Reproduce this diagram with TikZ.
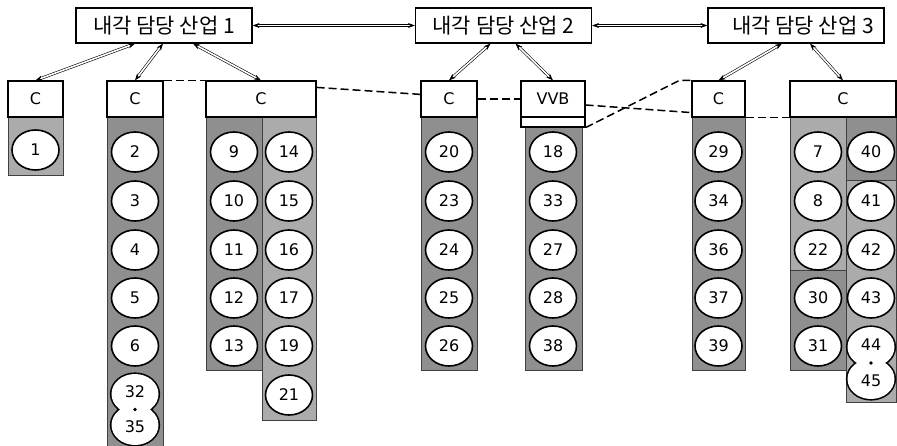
\documentclass[tikz,border=0pt]{standalone}
\usepackage{fontspec}
\setmainfont{DejaVu Sans}
\newfontfamily\krfont{Noto Sans CJK KR}
\usetikzlibrary{positioning, arrows.meta, shapes.geometric}

\begin{document}
\begin{tikzpicture}[x=1pt, y=-1pt, >=Stealth,
    ind/.style={draw, line width=1.2pt, fill=white, minimum width=176, minimum height=35,
      inner sep=2pt, font=\krfont\fontsize{21}{21}\selectfont},
    head/.style={draw, line width=1.2pt, fill=white, minimum height=36, inner sep=0pt,
      font=\fontsize{16}{16}\selectfont},
    unit/.style={ellipse, draw, line width=1.6pt, fill=white, minimum width=47,
      minimum height=40, inner sep=0pt, font=\fontsize{16}{16}\selectfont},
    tag/.style={inner sep=0pt, font=\fontsize{16}{16}\selectfont},
    bank/.style={draw=black!75, line width=0.8pt, fill=black!44},
    banklt/.style={draw=black!75, line width=0.8pt, fill=black!33},
    link/.style={{Stealth[length=7pt,width=5pt]}-{Stealth[length=7pt,width=5pt]},
      double, double distance=1.6pt, line width=0.6pt},
    tie/.style={dash pattern=on 8pt off 4pt, line width=1.5pt}]
  \useasboundingbox (0,0) rectangle (897,446);

  % industries
  \node[ind] (ind1) at (164,25.5) {내각 담당 산업 1};
  \node[ind] (ind2) at (503.5,25.5) {내각 담당 산업 2};
  \node[ind] (ind3) at (796,25.5) {\hspace*{14pt}내각 담당 산업 3};

  % shaded banks under the headers
  \path[banklt] (8,117) rectangle (63,175);
  \path[bank] (107,117) rectangle (163,450);
  \path[bank] (206,117) rectangle (262,370);
  \path[banklt] (262,117) rectangle (316,420);
  \path[bank] (421,117) rectangle (477,370);
  \path[bank] (525,127) rectangle (582,370);
  \path[bank] (692,117) rectangle (745,370);
  \path[banklt] (790,117) rectangle (846,270);
  \path[bank] (790,270) rectangle (846,370);
  \path[bank] (846,117) rectangle (896,180);
  \path[banklt] (846,180) rectangle (896,402);

  % headers
  \node[head, minimum width=55] (hdA) at (35.5,99) {C};
  \node[head, minimum width=56] (hdB) at (135,99) {C};
  \node[head, minimum width=110] (hdC) at (261,99) {C};
  \node[head, minimum width=56] (hdD) at (449,99) {C};
  \node[head, minimum width=64] (hdE) at (553,99) {VVB};
  \node[draw, line width=1.2pt, fill=white, minimum width=64, minimum height=10,
    inner sep=0pt] (stripE) at (553,122) {};
  \node[head, minimum width=53] (hdF) at (718.5,99) {C};
  \node[head, minimum width=106] (hdG) at (843,99) {C};

  % members
  \node[unit] (u1) at (35.5,150) {1};
  \foreach \n/\y in {2/152,3/201,4/250,5/298,6/346}
    \node[unit] (u\n) at (135,\y) {\n};
  \foreach \n/\y in {9/152,10/201,11/250,12/298,13/346}
    \node[unit] (u\n) at (234,\y) {\n};
  \foreach \n/\y in {14/152,15/201,16/250,17/298,19/346,21/395}
    \node[unit] (u\n) at (289,\y) {\n};
  \foreach \n/\y in {20/152,23/201,24/250,25/298,26/346}
    \node[unit] (u\n) at (449,\y) {\n};
  \foreach \n/\y in {18/152,33/201,27/250,28/298,38/346}
    \node[unit] (u\n) at (553,\y) {\n};
  \foreach \n/\y in {29/152,34/201,36/250,37/298,39/346}
    \node[unit] (u\n) at (718.5,\y) {\n};
  \foreach \n/\y in {7/152,8/201,22/250,30/298,31/346}
    \node[unit] (u\n) at (818,\y) {\n};
  \foreach \n/\y in {40/152,41/201,42/250,43/298}
    \node[unit] (u\n) at (871,\y) {\n};

  % joined pairs
  \path[draw, line width=3.2pt] (135,394) ellipse [x radius=23.5, y radius=20]
    (135,425) ellipse [x radius=23.5, y radius=20];
  \fill[white] (135,394) ellipse [x radius=23.5, y radius=20]
    (135,425) ellipse [x radius=23.5, y radius=20];
  \node[tag] (u32) at (135,392) {32};
  \node[tag] (u35) at (135,427) {35};
  \fill (135,409.5) circle [radius=1.9];

  \path[draw, line width=3.2pt] (871,347) ellipse [x radius=23.5, y radius=20]
    (871,379) ellipse [x radius=23.5, y radius=20];
  \fill[white] (871,347) ellipse [x radius=23.5, y radius=20]
    (871,379) ellipse [x radius=23.5, y radius=20];
  \node[tag] (u44) at (871,345) {44};
  \node[tag] (u45) at (871,381) {45};
  \fill (871,363) circle [radius=1.9];

  % links between industries and their groups
  \path (ind1.east) edge[link] (ind2.west)
        (ind2.east) edge[link] (ind3.west)
        ([xshift=-29pt]ind1.south) edge[link] (hdA.north)
        ([xshift=-1pt]ind1.south) edge[link] (hdB.north)
        ([xshift=29pt]ind1.south) edge[link] (hdC.north)
        ([xshift=-13pt]ind2.south) edge[link] (hdD.north)
        ([xshift=12pt]ind2.south) edge[link] (hdE.north)
        ([xshift=-14pt]ind3.south) edge[link] (hdF.north)
        ([xshift=14pt]ind3.south) edge[link] (hdG.north);

  % dashed ties between groups
  \draw[tie] (hdB.north east) -- (hdC.north west);
  \draw[tie] ([yshift=-7pt]hdC.north east) -- ([yshift=-14pt]hdD.north west);
  \draw[tie] (hdD.east) -- (hdE.west);
  \draw[tie] ([yshift=-6pt]hdE.east) -- ([yshift=5pt]hdF.south west);
  \draw[tie] (stripE.south east) -- ([xshift=-12pt]hdF.north west) -- (hdF.north west);
  \draw[tie] (hdF.south east) -- (hdG.south west);
\end{tikzpicture}
\end{document}
